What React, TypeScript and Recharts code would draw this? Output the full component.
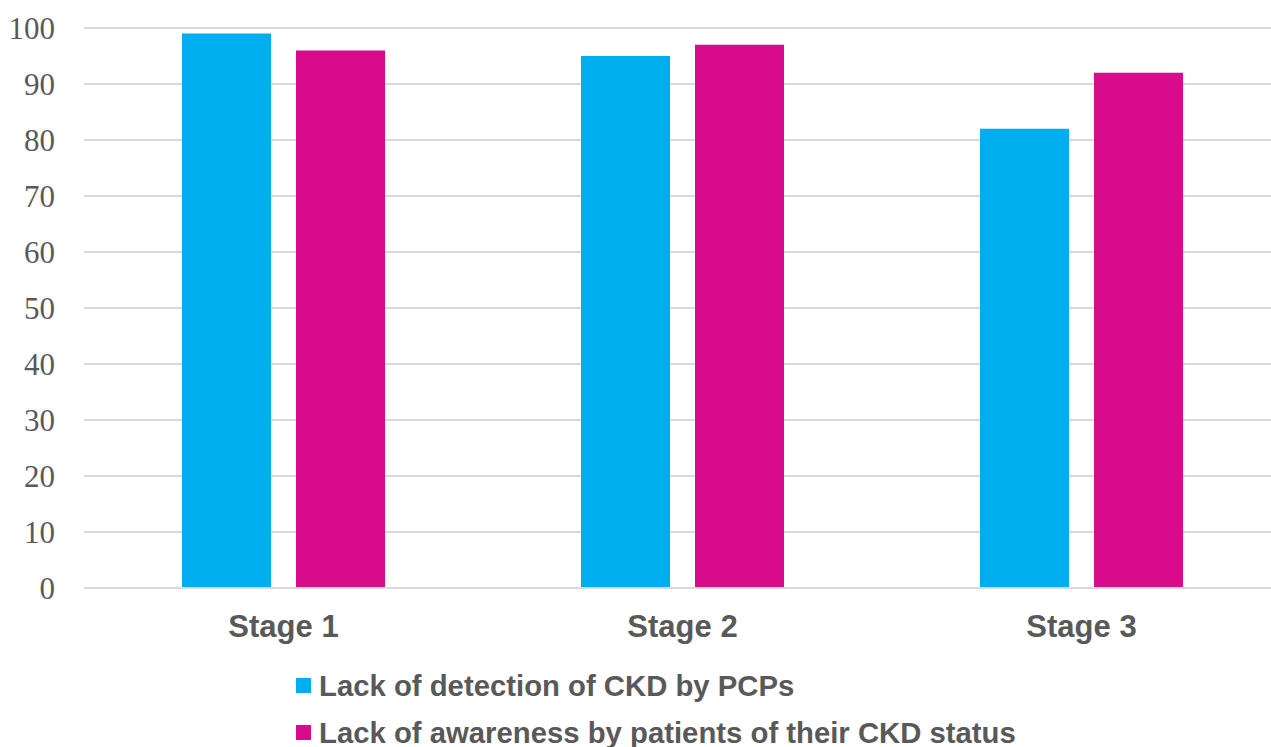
import React from "react";
import { BarChart, Bar, XAxis, YAxis, CartesianGrid, Legend } from "recharts";

// Share of CKD cases (%) by stage
const stages = ["Stage 1", "Stage 2", "Stage 3"];
const detectionByPCPs = [99, 95, 82];
const awarenessByPatients = [96, 97, 92];
const yTicks = [0, 10, 20, 30, 40, 50, 60, 70, 80, 90, 100];

const seriesKeys = ["detection", "awareness"];
const seriesNames = {
  detection: "Lack of detection of CKD by PCPs",
  awareness: "Lack of awareness by patients of their CKD status",
};

const BLUE = "#00AEEF";
const PINK = "#D80B8C";
const TEXT = "#595959";
const GRID = "#D9D9D9";

const data = stages.map((stage, i) => ({
  stage,
  detection: detectionByPCPs[i],
  awareness: awarenessByPatients[i],
}));

const LegendRows = (props: any) => {
  const items = [...(props.payload || [])].sort(
    (a: any, b: any) => seriesKeys.indexOf(a.dataKey) - seriesKeys.indexOf(b.dataKey)
  );
  return (
    <div>
      {items.map((entry: any) => (
        <div
          key={entry.value}
          style={{
            display: "flex",
            alignItems: "center",
            height: 47,
            fontFamily: "'Liberation Sans', Arial, sans-serif",
            fontWeight: 700,
            fontSize: 29.3,
            color: TEXT,
            whiteSpace: "nowrap",
          }}
        >
          <span
            style={{
              display: "inline-block",
              width: 15,
              height: 15,
              background: entry.color,
              marginRight: 8,
            }}
          />
          <span>{entry.value}</span>
        </div>
      ))}
    </div>
  );
};

export default function App() {
  return (
    <div
      style={{
        position: "absolute",
        left: 0,
        top: 0,
        width: 1271,
        height: 747,
        overflow: "hidden",
        background: "#fff",
      }}
    >
      <BarChart
        width={1290}
        height={747}
        data={data}
        margin={{ top: 28, right: 9, bottom: 99, left: 0 }}
        barSize={89}
        barGap={25}
      >
        <CartesianGrid vertical={false} stroke={GRID} strokeWidth={2} />
        <XAxis
          dataKey="stage"
          height={60}
          axisLine={{ stroke: GRID, strokeWidth: 2 }}
          tickLine={false}
          tickMargin={21}
          tick={{
            fill: TEXT,
            fontSize: 31,
            fontWeight: 700,
            fontFamily: "'Liberation Sans', Arial, sans-serif",
          }}
        />
        <YAxis
          width={84}
          domain={[0, 100]}
          ticks={yTicks}
          axisLine={false}
          tickLine={false}
          tickMargin={23}
          tick={{
            fill: TEXT,
            fontSize: 31,
            fontFamily: "'Liberation Serif', 'Times New Roman', serif",
          }}
        />
        <Legend
          layout="horizontal"
          verticalAlign="middle"
          align="center"
          content={<LegendRows />}
          wrapperStyle={{ left: 296, top: 662, width: 960, height: 94 }}
        />
        <Bar
          dataKey="detection"
          name={seriesNames.detection}
          fill={BLUE}
          isAnimationActive={false}
        />
        <Bar
          dataKey="awareness"
          name={seriesNames.awareness}
          fill={PINK}
          isAnimationActive={false}
        />
      </BarChart>
    </div>
  );
}
